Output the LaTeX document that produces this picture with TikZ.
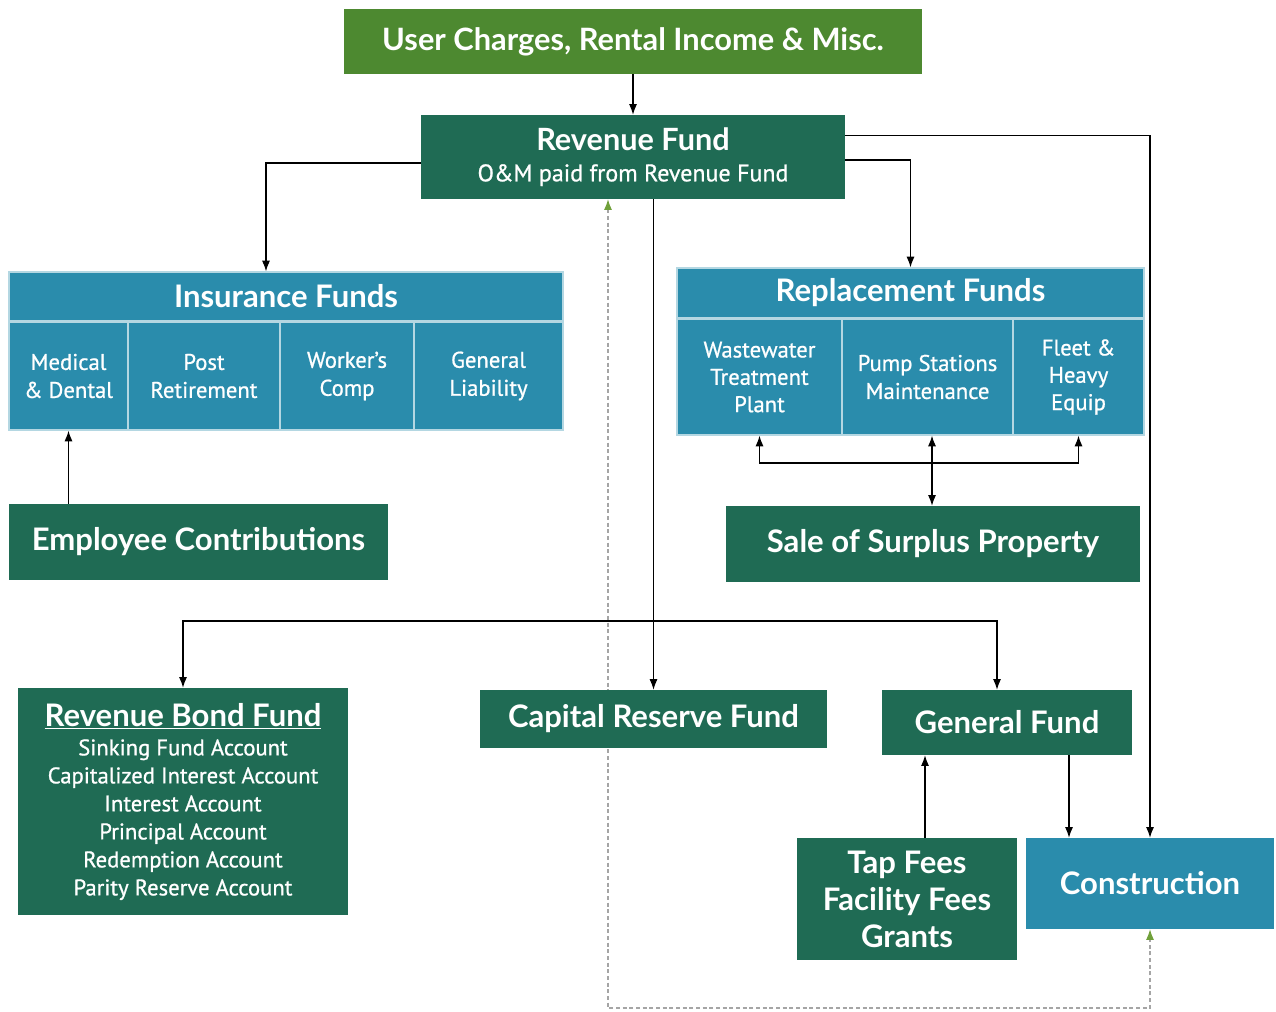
\documentclass[tikz,border=0pt]{standalone}
\usepackage{fontspec}
\setmainfont{Lato}
\newfontfamily\smallfont[UprightFeatures={FakeBold=0.8}]{PT Sans}
\usetikzlibrary{arrows.meta,backgrounds}
\definecolor{olivebox}{RGB}{77,137,48}
\definecolor{darkbox}{RGB}{31,107,84}
\definecolor{tealbox}{RGB}{42,140,172}
\definecolor{dashgrey}{RGB}{165,165,165}
\definecolor{tipgreen}{RGB}{112,160,58}
\begin{document}
\begin{tikzpicture}[x=0.75pt,y=0.75pt,yscale=-1,xscale=1,
	fbox/.style={fill=#1,text=white,inner sep=0pt,align=center},
	cell/.style={fill=tealbox,draw=white!65!tealbox,line width=1pt,text=white,inner sep=0pt,align=center,font=\smallfont\fontsize{17}{21}\selectfont},
	big/.style={font=\fontsize{23.3}{27.75}\selectfont\bfseries},
	flow/.style={-{Latex[length=8pt,width=6pt]},line width=0.8pt},
	]
	\useasboundingbox (0,0) rectangle (1276,1012);

	% Text Node
	\node [fbox=olivebox,minimum width=433.5pt,minimum height=48.75pt,font=\fontsize{23.1}{28}\selectfont\bfseries] (user) at (633,41.5) {User Charges, Rental Income \& Misc.};
	% Text Node
	\node [fbox=darkbox,minimum width=318pt,minimum height=63pt,font=\smallfont\fontsize{18}{20}\selectfont] (rev) at (633,157) {{\fontsize{23}{26}\selectfont\rmfamily\bfseries Revenue Fund}\\[3pt]O\&M paid from Revenue Fund};

	% Insurance Funds
	\node [cell,big,minimum width=415.5pt,minimum height=36.75pt] (insh) at (286,296.5) {Insurance Funds};
	\node [cell,minimum width=89.25pt,minimum height=81pt] (med) at (68.5,376) {Medical\\\& Dental};
	\node [cell,minimum width=114pt,minimum height=81pt] (post) at (204,376) {Post\\Retirement};
	\node [cell,minimum width=100.5pt,minimum height=81pt] (work) at (347,376) {Worker’s\\Comp};
	\node [cell,minimum width=111.75pt,minimum height=81pt] (liab) at (488.5,376) {General\\Liability};
	% Text Node
	\node [fbox=darkbox,big,minimum width=284.25pt,minimum height=57pt] (emp) at (198.5,542) {Employee Contributions};

	% Replacement Funds
	\node [cell,big,minimum width=350.25pt,minimum height=37.5pt] (reph) at (910.5,293) {Replacement Funds};
	\node [cell,minimum width=123.75pt,minimum height=87pt,font=\smallfont\fontsize{17}{20.5}\selectfont] (wwtp) at (759.5,377) {Wastewater\\Treatment\\Plant};
	\node [cell,minimum width=128.25pt,minimum height=87pt] (pump) at (927.5,377) {Pump Stations\\Maintenance};
	\node [cell,minimum width=98.25pt,minimum height=87pt,font=\smallfont\fontsize{17}{20.5}\selectfont] (fleet) at (1078.5,377) {Fleet \&\\Heavy\\Equip};
	% Text Node
	\node [fbox=darkbox,big,minimum width=310.5pt,minimum height=57pt] (sale) at (933,544) {Sale of Surplus Property};

	% Text Node
	\node [fbox=darkbox,minimum width=247.5pt,minimum height=170.25pt,font=\smallfont\fontsize{17}{21}\selectfont] (bond) at (183,801.5) {{\fontsize{23.3}{26}\selectfont\rmfamily\bfseries\underline{Revenue Bond Fund}}\\[1pt]Sinking Fund Account\\Capitalized Interest Account\\Interest Account\\Principal Account\\Redemption Account\\Parity Reserve Account};
	% Text Node
	\node [fbox=darkbox,big,minimum width=260.25pt,minimum height=43.5pt] (cap) at (653.5,719) {Capital Reserve Fund};
	% Text Node
	\node [fbox=darkbox,big,minimum width=187.5pt,minimum height=48.75pt] (gen) at (1007,722.5) {General Fund};
	% Text Node
	\node [fbox=darkbox,big,minimum width=165pt,minimum height=91.5pt] (tap) at (907,899) {Tap Fees\\Facility Fees\\Grants};
	% Text Node
	\node [fbox=tealbox,big,minimum width=186pt,minimum height=68.25pt] (con) at (1150,883.5) {Construction};

	\coordinate (split) at (653,621);
	\coordinate (hub) at (932,463);
	\coordinate (dl) at (608,1008);
	\coordinate (dr) at (1150,1008);

	\begin{scope}[on background layer]
	%Straight Lines
	\draw [flow] (user) -- (rev);
	\draw [flow] ([yshift=4.5pt]rev.west) -| ([xshift=-15pt]insh.north);
	\draw [flow] ([yshift=15.75pt]rev.north east) -| (con.north);
	\draw [flow] ([yshift=2.25pt]rev.east) -| (reph.north);
	\draw [flow] (cap.north |- rev.south) -- (cap.north);
	\draw [flow] (split) -| (bond.north);
	\draw [flow] (split) -| ([xshift=-7.5pt]gen.north);
	\draw [flow] (emp.north -| med.south) -- (med.south);
	\draw [flow] (hub) -| (wwtp.south);
	\draw [flow] (hub) -| (fleet.south);
	\draw [flow,{Latex[length=8pt,width=6pt]}-{Latex[length=8pt,width=6pt]}] (sale.north -| hub) -- (pump.south -| hub);
	\draw [flow] ([xshift=13.5pt]tap.north) -- ([xshift=13.5pt]tap.north |- gen.south);
	\draw [flow] ([xshift=46.5pt]gen.south) -- ([xshift=46.5pt]gen.south |- con.north);
	%Dashed Lines
	\draw [dashgrey,line width=0.8pt,dash pattern=on 3pt off 2pt,{Latex[color=tipgreen,length=8pt,width=6pt]}-{Latex[color=tipgreen,length=8pt,width=6pt]}] (rev.south -| dl) -- (dl) -- (dr) -- (con.south);
	\end{scope}
\end{tikzpicture}
\end{document}
